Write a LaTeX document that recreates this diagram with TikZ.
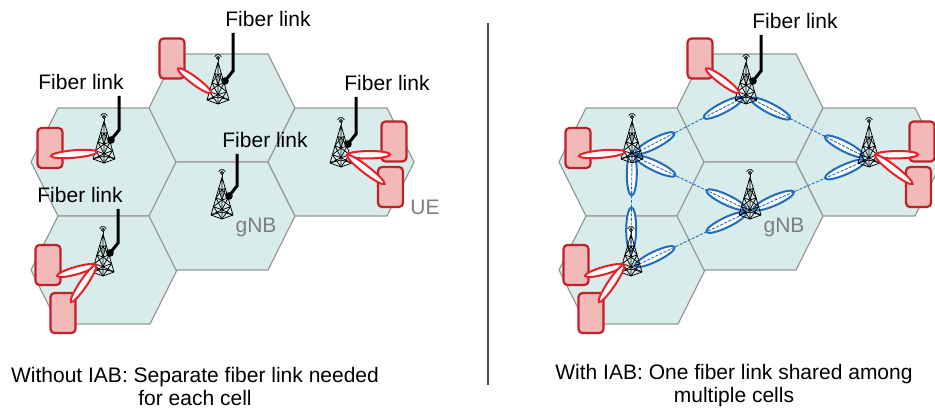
\documentclass[tikz,border=0pt]{standalone}
\usepackage{fontspec}
\setmainfont{Liberation Sans}
\usetikzlibrary{shapes.geometric,calc}

\definecolor{cellfill}{RGB}{216,237,235}
\definecolor{cellline}{RGB}{152,152,152}
\definecolor{uefill}{RGB}{242,185,185}
\definecolor{uered}{RGB}{190,34,40}
\definecolor{beamred}{RGB}{232,32,38}
\definecolor{relayblue}{RGB}{34,108,190}
\definecolor{notegray}{RGB}{125,125,125}

\pgfdeclarelayer{cells}
\pgfdeclarelayer{mesh}
\pgfsetlayers{cells,mesh,main}

% beam from a tower point to a spot on a UE
\newcommand\uebeam[4]{%
  \path let \p1=($(#3)+(#4)-(#2)$), \n1={veclen(\x1,\y1)} in
    (#2) -- ($(#3)+(#4)$) node[beam, sloped, midway, minimum width=\n1] (#1) {};}

\tikzset{
  cell/.style={fill=cellfill, draw=cellline, line width=1.2pt},
  ue/.style={rectangle, rounded corners=4pt, fill=uefill, draw=uered, line width=2.2pt,
    minimum width=25pt, minimum height=40pt, inner sep=0pt},
  beam/.style={ellipse, fill=white, draw=beamred, line width=2pt,
    minimum height=7.5pt, inner sep=0pt},
  relay/.style={ellipse, fill=white, draw=relayblue, line width=2pt,
    minimum width=44pt, minimum height=10pt, inner sep=0pt},
  meshdash/.style={draw=relayblue, line width=0.9pt, dash pattern=on 3pt off 1.5pt},
  fiber/.style={line width=3pt},
  lbl/.style={font=\fontsize{21}{24}\selectfont, inner sep=6pt},
  cellnote/.style={lbl, text=notegray, inner sep=1pt},
  caption/.style={font=\fontsize{21}{23}\selectfont, align=center, inner sep=1pt},
  mast/.style={line width=0.75pt, line join=round},
  tower/.pic={
    % antenna
    \draw[mast] (0,0) -- (0,-2.5);
    \draw[mast] (0,-4) circle (1.5);
    \draw[mast] ([shift={(200:3.6)}]0,-4) arc (200:340:3.6);
    % legs and base
    \draw[mast] (-11,38) -- (0,0) -- (11,38) (0,0) -- (0,42)
      (-11,38) -- (0,42) -- (11,38) -- (0,35) -- cycle;
    \foreach \lo/\hi in {0.3/0.55,0.55/0.78,0.78/1}
      \draw[mast] (-11*\lo,38*\lo) -- (0,42*\lo) -- (11*\lo,38*\lo)
        (-11*\lo,38*\lo) -- (0,42*\hi) -- (11*\lo,38*\lo)
        (-11*\hi,38*\hi) -- (0,42*\lo) -- (11*\hi,38*\hi);
    \coordinate (-feed) at (7,19);
    \coordinate (-hub) at (0,34);
    \coordinate (-top) at (0,14);
    \coordinate (-l) at (-7,31);
    \coordinate (-r) at (6,30);
  }
}

\begin{document}
\begin{tikzpicture}[x=1pt,y=-1pt]
\useasboundingbox (0,0) rectangle (935,411);

% cells, towers and UEs, same layout on both sides
\foreach \side/\dx in {L/0,R/528}{
\begin{scope}[xshift=\dx pt]
  \begin{pgfonlayer}{cells}
    \foreach \cx/\cy in {104/162,104/270,222/108,222/216,341/162}
      \draw[cell] (\cx-73,\cy) -- (\cx-46,\cy-54) -- (\cx+46,\cy-54)
        -- (\cx+73,\cy) -- (\cx+46,\cy+54) -- (\cx-46,\cy+54) -- cycle;
  \end{pgfonlayer}
  \pic (tA\side) at (218,62) {tower};
  \pic (tC\side) at (104,121) {tower};
  \pic (tB\side) at (222,177) {tower};
  \pic (tE\side) at (341,125) {tower};
  \pic (tD\side) at (103,234) {tower};
  \node[ue] (ueA\side) at (172,58.5) {};
  \node[ue] (ueC\side) at (50,148) {};
  \node[ue] (ueE\side) at (394,141.5) {};
  \node[ue] (ueF\side) at (390.5,187) {};
  \node[ue] (ueD\side) at (48,265) {};
  \node[ue] (ueG\side) at (63,313) {};
  \uebeam{bA\side}{tA\side-l}{ueA\side}{6,10}
  \uebeam{bC\side}{tC\side-l}{ueC\side}{1,8}
  \uebeam{bE\side}{tE\side-r}{ueE\side}{-4,13}
  \uebeam{bF\side}{tE\side-r}{ueF\side}{-6,-3}
  \uebeam{bD\side}{tD\side-l}{ueD\side}{9,11}
  \uebeam{bG\side}{tD\side-l}{ueG\side}{8,-11}
  \node[cellnote] (gnb\side) at (256,227) {gNB};
\end{scope}}
\node[cellnote] (uetag) at (425,207) {UE};

% wireless backhaul between the IAB nodes
\begin{pgfonlayer}{mesh}
  \foreach \ea/\eb [count=\i] in {tAR-hub/tCR-hub,tAR-hub/tER-hub,tCR-hub/tBR-hub,
      tBR-hub/tER-hub,tDR-hub/tBR-hub,tCR-hub/tDR-top}{
    \path (\ea) -- (\eb) node[relay, sloped, pos=0.2] (rly\i-a) {}
      node[relay, sloped, pos=0.8] (rly\i-b) {};
    \draw[meshdash] (\ea) -- (\eb);
  }
\end{pgfonlayer}

% fiber feeds
\node[lbl] (fA) at (268,19) {Fiber link};
\node[lbl] (fC) at (81,82) {Fiber link};
\node[lbl] (fB) at (265,140) {Fiber link};
\node[lbl] (fE) at (387,83) {Fiber link};
\node[lbl] (fD) at (80,195) {Fiber link};
\node[lbl] (fR) at (795,21) {Fiber link};
\foreach \t/\f in {tAL/fA,tCL/fC,tBL/fB,tEL/fE,tDL/fD,tAR/fR}{
  \fill (\t-feed) circle (3.8);
  \draw[fiber] (\t-feed) -- ++(8,-10) coordinate (\t-bend) -- (\t-bend |- \f.south);
}

\draw[line width=1.2pt, black!70] (488,23) -- (488,385);

\node[caption] (capL) at (195,386) {Without IAB: Separate fiber link needed\\for each cell};
\node[caption] (capR) at (734,386) {With IAB: One fiber link shared among\\multiple cells};
\end{tikzpicture}
\end{document}
